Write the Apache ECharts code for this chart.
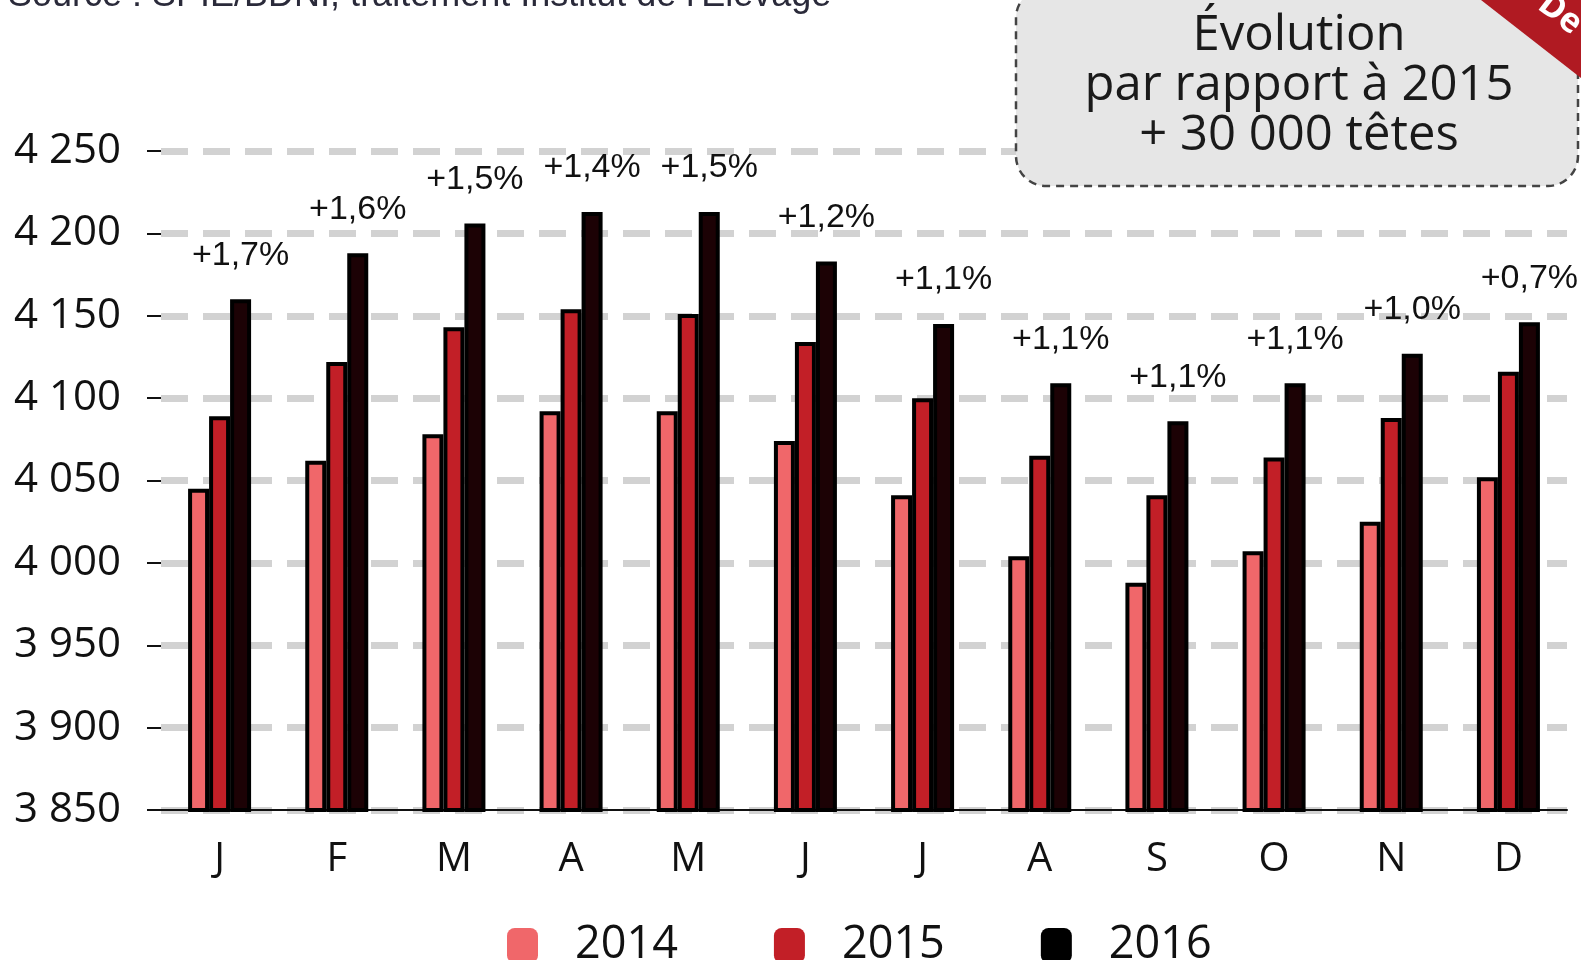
<!DOCTYPE html>
<html>
<head>
<meta charset="utf-8">
<script src="https://cdn.jsdelivr.net/npm/echarts@6/dist/echarts.min.js"></script>
<style>
  html, body { margin: 0; padding: 0; background: #fff; }
  #chart { width: 1581px; height: 960px; }
</style>
</head>
<body>
<div id="chart"></div>
<script>
// mois
var months = ['J', 'F', 'M', 'A', 'M', 'J', 'J', 'A', 'S', 'O', 'N', 'D'];
var years = ['2014', '2015', '2016'];
// effectifs (milliers de têtes)
var data2014 = [4045, 4062, 4078, 4092, 4092, 4074, 4041, 4004, 3988, 4007, 4025, 4052];
var data2015 = [4089, 4122, 4143, 4154, 4151, 4134, 4100, 4065, 4041, 4064, 4088, 4116];
var data2016 = [4160, 4188, 4206, 4213, 4213, 4183, 4145, 4109, 4086, 4109, 4127, 4146];
// évolution 2016 / 2015
var evolLabels = ['+1,7%', '+1,6%', '+1,5%', '+1,4%', '+1,5%', '+1,2%', '+1,1%', '+1,1%', '+1,1%', '+1,1%', '+1,0%', '+0,7%'];
// axe
var yMin = 3850, yMax = 4250, yStep = 50;

var colors = ['#f0676a', '#c21f27', '#1c0205'];
var narrow = '"Liberation Sans Narrow", "Liberation Sans", Arial, sans-serif';
var sans = '"Open Sans", "Liberation Sans", sans-serif';

var myChart = echarts.init(document.getElementById('chart'));

function fmtThousands(v) {
	return String(v).replace(/\B(?=(\d{3})+(?!\d))/g, ' ');
}

function barSeries(name, data, idx) {
	var s = {
		name: name,
		type: 'bar',
		data: data,
		barWidth: 21,
		barGap: '0%',
		itemStyle: {
			color: colors[idx],
			borderColor: '#000',
			borderWidth: 4
		}
	};
	if (idx === 2) {
		s.label = {
			show: true,
			position: 'top',
			distance: 27,
			fontFamily: narrow,
			fontSize: 34,
			color: '#111',
			formatter: function (p) {
				return evolLabels[p.dataIndex];
			}
		};
	}
	return s;
}

myChart.setOption({
	animation: false,
	color: colors,
	grid: {
		left: 161,
		right: 14,
		top: 151,
		bottom: 150
	},
	legend: {
		left: 502,
		top: 918,
		itemWidth: 31,
		itemHeight: 35,
		itemGap: 96,
		icon: 'roundRect',
		itemStyle: { borderWidth: 0 },
		textStyle: {
			fontFamily: sans,
			fontSize: 45,
			color: '#111',
			padding: [0, 0, 0, 32]
		},
		data: [
			{ name: years[0] },
			{ name: years[1] },
			{ name: years[2], itemStyle: { color: '#000' } }
		]
	},
	xAxis: {
		type: 'category',
		data: months,
		axisLine: { lineStyle: { color: '#111', width: 2 } },
		axisTick: { length: 15, lineStyle: { color: '#111', width: 2 } },
		axisLabel: {
			margin: 30,
			fontFamily: sans,
			fontSize: 40,
			color: '#111'
		}
	},
	yAxis: {
		type: 'value',
		min: yMin,
		max: yMax,
		interval: yStep,
		axisLine: { show: false },
		axisTick: { show: true, length: 14, lineStyle: { color: '#111', width: 2 } },
		axisLabel: {
			margin: 40,
			fontFamily: sans,
			fontSize: 42,
			color: '#111',
			formatter: fmtThousands
		},
		splitLine: {
			lineStyle: { color: '#d2d2d2', width: 7, type: [27, 15] }
		}
	},
	graphic: [
		{
			type: 'text',
			left: 8,
			top: -22,
			style: {
				text: "Source : SPIE/BDNI, traitement Institut de l'Elevage",
				fontFamily: narrow,
				fontSize: 36,
				fill: '#2a2a3a'
			}
		},
		{
			type: 'rect',
			z: 100,
			shape: { x: 1016, y: -12, width: 562, height: 198, r: 30 },
			style: {
				fill: '#e6e6e6',
				stroke: '#444',
				lineWidth: 2.5,
				lineDash: [8, 6]
			}
		},
		{
			type: 'text',
			z: 101,
			x: 1299,
			y: 86,
			style: {
				text: 'Évolution\npar rapport à 2015\n+ 30 000 têtes',
				fontFamily: sans,
				fontSize: 49,
				lineHeight: 50,
				align: 'center',
				verticalAlign: 'middle',
				fill: '#1a1a1a'
			}
		},
		{
			type: 'polygon',
			z: 102,
			shape: { points: [[1481, 0], [1581, 0], [1581, 78]] },
			style: { fill: '#b01a22' }
		},
		{
			type: 'text',
			z: 103,
			x: 1560,
			y: 14,
			rotation: -0.66,
			style: {
				text: 'De',
				fontFamily: sans,
				fontSize: 34,
				fontWeight: 'bold',
				fill: '#fff',
				align: 'center',
				verticalAlign: 'middle'
			}
		}
	],
	series: [
		barSeries(years[0], data2014, 0),
		barSeries(years[1], data2015, 1),
		barSeries(years[2], data2016, 2)
	]
});

window.onresize = function () {
	myChart.resize();
};
</script>
</body>
</html>
